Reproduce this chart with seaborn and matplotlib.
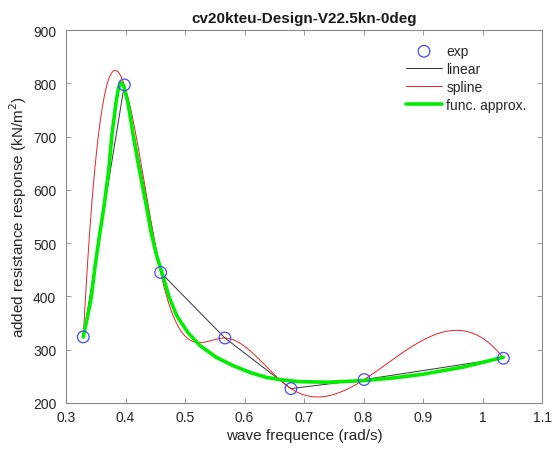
import numpy as np
import pandas as pd
import matplotlib
matplotlib.use("Agg")
import matplotlib.pyplot as plt
import seaborn as sns

# measured points
exp_w = [0.329, 0.398, 0.459, 0.567, 0.678, 0.801, 1.035]
exp_r = [324, 797, 445, 322, 227, 244, 284]

# function approximation curve
fa_w = [0.329, 0.335, 0.342, 0.349, 0.357, 0.364, 0.372, 0.377, 0.384, 0.388,
        0.392, 0.397, 0.404, 0.413, 0.423, 0.435, 0.443, 0.452, 0.461, 0.473,
        0.486, 0.505, 0.525, 0.552, 0.581, 0.610, 0.637, 0.665, 0.693, 0.740,
        0.800, 0.850, 0.900, 0.970, 1.035]
fa_r = [324, 356, 395, 458, 520, 570, 639, 702, 764, 790,
        802, 795, 764, 702, 639, 570, 520, 478, 445, 400,
        364, 332, 308, 286, 270, 257, 248, 243, 240, 239,
        242, 247, 254, 268, 286]

title = "cv20kteu-Design-V22.5kn-0deg"
xlabel = "wave frequence (rad/s)"
ylabel = "added resistance response (kN/m$^2$)"
xticks = [0.3, 0.4, 0.5, 0.6, 0.7, 0.8, 0.9, 1.0, 1.1]
xticklabels = ["0.3", "0.4", "0.5", "0.6", "0.7", "0.8", "0.9", "1", "1.1"]
yticks = [200, 300, 400, 500, 600, 700, 800, 900]


def spline_nak(x, y, xs):
    """not-a-knot cubic spline (as MATLAB spline)"""
    x = np.asarray(x, float); y = np.asarray(y, float)
    n = len(x); m = n - 1
    A = np.zeros((4 * m, 4 * m)); b = np.zeros(4 * m)
    r = 0
    for i in range(m):
        h = x[i + 1] - x[i]
        A[r, 4 * i] = 1; b[r] = y[i]; r += 1
        A[r, 4 * i:4 * i + 4] = [1, h, h * h, h ** 3]; b[r] = y[i + 1]; r += 1
    for i in range(m - 1):
        h = x[i + 1] - x[i]
        A[r, 4 * i:4 * i + 4] = [0, 1, 2 * h, 3 * h * h]; A[r, 4 * (i + 1) + 1] = -1; r += 1
        A[r, 4 * i:4 * i + 4] = [0, 0, 2, 6 * h]; A[r, 4 * (i + 1) + 2] = -2; r += 1
    A[r, 3] = 1; A[r, 7] = -1; r += 1
    A[r, 4 * (m - 2) + 3] = 1; A[r, 4 * (m - 1) + 3] = -1; r += 1
    c = np.linalg.solve(A, b).reshape(m, 4)
    idx = np.clip(np.searchsorted(x, xs, side="right") - 1, 0, m - 1)
    t = xs - x[idx]
    return c[idx, 0] + c[idx, 1] * t + c[idx, 2] * t ** 2 + c[idx, 3] * t ** 3


sns.set_style("white")
plt.rcParams["font.family"] = ["Liberation Sans", "DejaVu Sans"]

fig = plt.figure(figsize=(5.52, 4.52), dpi=100)
ax = fig.add_axes([0.1196, 0.1062, 0.8624, 0.8252])

ws = np.linspace(exp_w[0], exp_w[-1], 400)
sp = spline_nak(exp_w, exp_r, ws)

df_exp = pd.DataFrame({"w": exp_w, "r": exp_r})
df_sp = pd.DataFrame({"w": ws, "r": sp})
df_fa = pd.DataFrame({"w": fa_w, "r": fa_r})

sns.lineplot(data=df_exp, x="w", y="r", color="#333333", lw=0.7, ax=ax,
             label="linear", sort=False, zorder=2)
sns.lineplot(data=df_sp, x="w", y="r", color="#e8202a", lw=0.7, ax=ax,
             label="spline", sort=False, zorder=2)
sns.lineplot(data=df_fa, x="w", y="r", color="#00ee00", lw=2.6, ax=ax,
             label="func. approx.", sort=False, zorder=3)
sns.scatterplot(data=df_exp, x="w", y="r", marker="o", s=70,
                facecolors="none", edgecolors="#4a4af0", linewidths=0.9,
                ax=ax, label="exp", zorder=4)

ax.set_xlim(0.3, 1.1)
ax.set_ylim(200, 900)
ax.set_xticks(xticks)
ax.set_xticklabels(xticklabels)
ax.set_yticks(yticks)
ax.tick_params(direction="in", length=3.5, width=0.6, colors="#8a8a8a",
               labelcolor="#262626", labelsize=10, top=True, right=True,
               bottom=True, left=True)
ax.tick_params(axis="y", pad=7)
ax.tick_params(axis="x", pad=5)
for s in ax.spines.values():
    s.set_color("#8a8a8a")
    s.set_linewidth(0.8)

ax.set_title(title, fontsize=11, fontweight="bold", color="#1a1a1a", pad=6)
ax.set_xlabel(xlabel, fontsize=11, color="#262626", labelpad=3)
ax.set_ylabel(ylabel, fontsize=11, color="#262626", labelpad=3)

h, l = ax.get_legend_handles_labels()
order = ["exp", "linear", "spline", "func. approx."]
hh = [h[l.index(o)] for o in order]
leg = ax.legend(hh, order, loc="upper right", bbox_to_anchor=(0.985, 0.985),
                frameon=False, fontsize=10, handlelength=2.6, handletextpad=0.3,
                labelspacing=0.28, borderaxespad=0.2)

fig.savefig("out.png", dpi=100, facecolor="white")
